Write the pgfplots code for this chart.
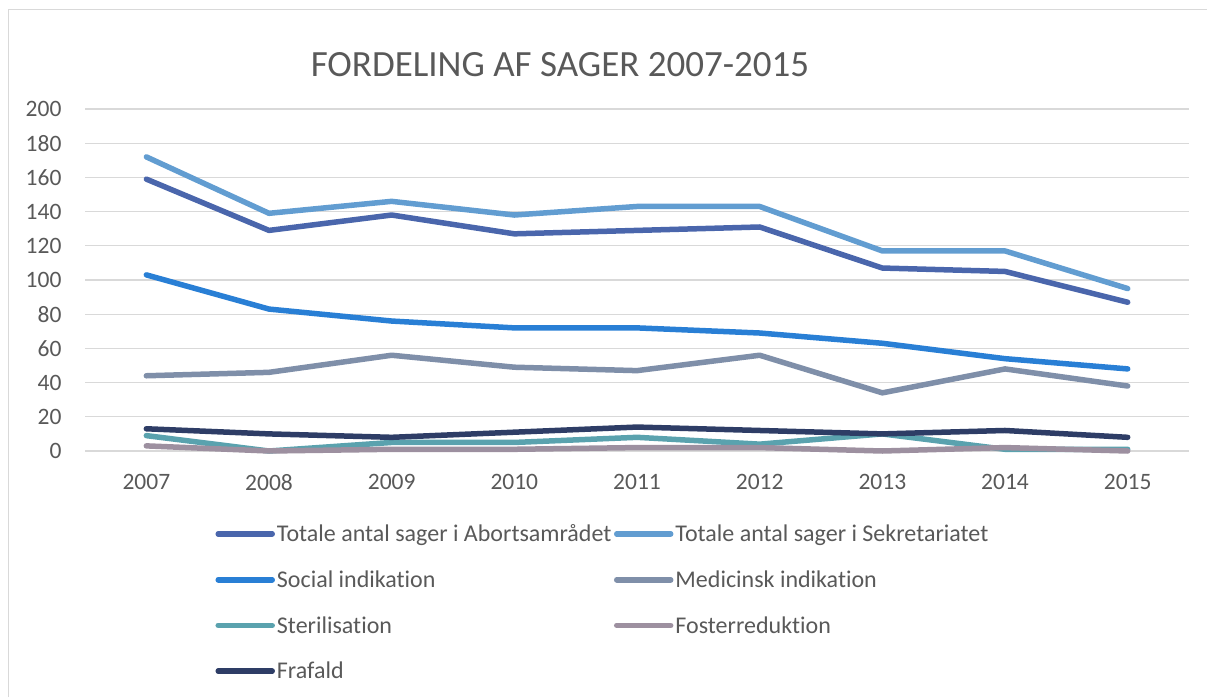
\documentclass[border=0pt]{standalone}
\usepackage{pgfplots}
\pgfplotsset{compat=1.18}
\usepackage{fontspec}
\setmainfont{Carlito}[Ligatures=NoCommon]
\definecolor{cA}{HTML}{4A66AC}
\definecolor{cB}{HTML}{629DD1}
\definecolor{cC}{HTML}{297FD5}
\definecolor{cD}{HTML}{7F8FA9}
\definecolor{cE}{HTML}{5AA2AE}
\definecolor{cF}{HTML}{9D90A0}
\definecolor{cG}{HTML}{2E3D66}
\definecolor{gridc}{HTML}{D9D9D9}
\definecolor{txt}{HTML}{595959}
\begin{document}
\begin{tikzpicture}[x=1pt,y=1pt]
\useasboundingbox (0,0) rectangle (1207,697);
\draw[color=gridc, line width=1pt] (8,0) -- (8,687) -- (1207,687);
\node[text=txt, font=\fontsize{37}{44}\selectfont] at (560,632) {FORDELING AF SAGER 2007-2015};
\begin{axis}[
  at={(85pt,246pt)}, anchor=south west, scale only axis,
  width=1104pt, height=342pt,
  xmin=2006.5, xmax=2015.5, ymin=0, ymax=200,
  xtick={2007,2008,...,2015}, ytick={0,20,...,200},
  axis line style={draw=none},
  major tick length=0pt,
  ymajorgrids, grid style={color=gridc, line width=1.2pt},
  clip=false,
  /pgf/number format/assume math mode=true,
  xticklabel style={/pgf/number format/1000 sep={}, font=\fontsize{23.5}{27}\selectfont, text=txt, yshift=-20pt},
  yticklabel style={font=\fontsize{23.5}{27}\selectfont, text=txt, xshift=-20pt},
  every axis plot/.append style={line width=5.5pt, line cap=round, line join=round},
  legend image code/.code={\draw[#1] (0pt,0pt) -- (54pt,0pt);},
  legend columns=2,
  legend cell align=left,
  legend style={draw=none, fill=none, at={(0.118,-0.209)}, anchor=north west,
    font=\fontsize{24}{28}\selectfont, text=txt, inner sep=0pt,
    row sep=23.5pt, column sep=0pt,
    nodes={inner xsep=2pt}},
]
\addplot[cA] coordinates {(2007,159)(2008,129)(2009,138)(2010,127)(2011,129)(2012,131)(2013,107)(2014,105)(2015,87)};
\addlegendentry{\makebox[335pt][l]{Totale antal sager i Abortsamrådet}}
\addplot[cB] coordinates {(2007,172)(2008,139)(2009,146)(2010,138)(2011,143)(2012,143)(2013,117)(2014,117)(2015,95)};
\addlegendentry{Totale antal sager i Sekretariatet}
\addplot[cC] coordinates {(2007,103)(2008,83)(2009,76)(2010,72)(2011,72)(2012,69)(2013,63)(2014,54)(2015,48)};
\addlegendentry{\makebox[335pt][l]{Social indikation}}
\addplot[cD] coordinates {(2007,44)(2008,46)(2009,56)(2010,49)(2011,47)(2012,56)(2013,34)(2014,48)(2015,38)};
\addlegendentry{Medicinsk indikation}
\addplot[cE] coordinates {(2007,9)(2008,0)(2009,5)(2010,5)(2011,8)(2012,4)(2013,10)(2014,1)(2015,1)};
\addlegendentry{\makebox[335pt][l]{Sterilisation}}
\addplot[cF] coordinates {(2007,3)(2008,0)(2009,1)(2010,1)(2011,2)(2012,2)(2013,0)(2014,2)(2015,0)};
\addlegendentry{Fosterreduktion}
\addplot[cG] coordinates {(2007,13)(2008,10)(2009,8)(2010,11)(2011,14)(2012,12)(2013,10)(2014,12)(2015,8)};
\addlegendentry{\makebox[335pt][l]{Frafald}}
\end{axis}
\end{tikzpicture}
\end{document}
